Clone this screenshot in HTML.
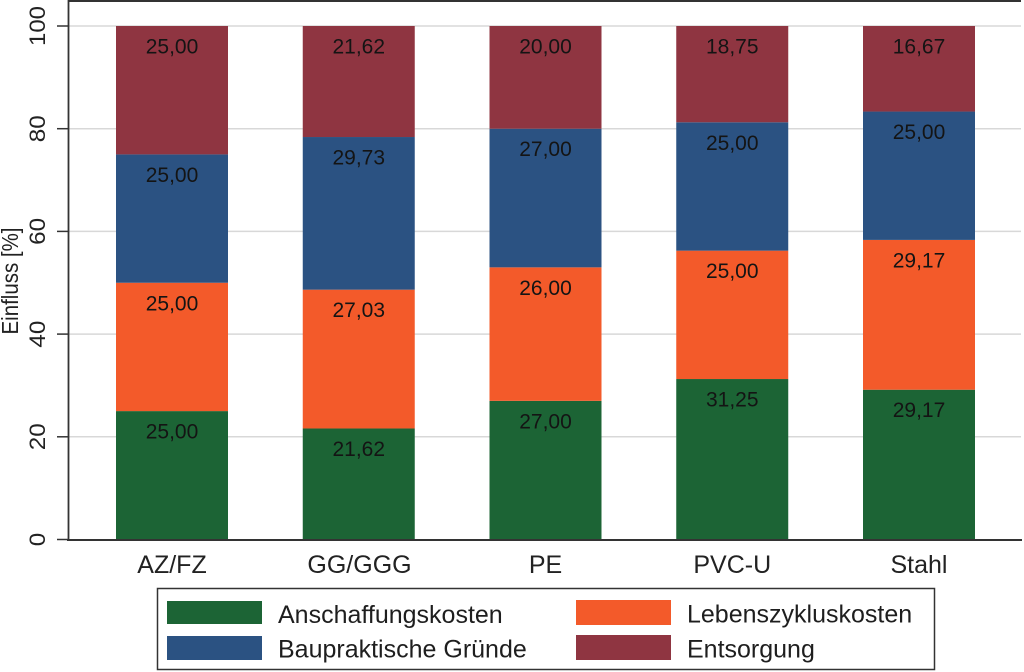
<!DOCTYPE html>
<html>
<head>
<meta charset="utf-8">
<style>
html,body{margin:0;padding:0;background:#fff;}
svg{display:block;}
text{font-family:"Liberation Sans", Arial, sans-serif;}
</style>
</head>
<body>
<svg width="1024" height="672" viewBox="0 0 1024 672" xmlns="http://www.w3.org/2000/svg">
  <rect width="1024" height="672" fill="#fff"/>
  <!-- gridlines -->
  <g stroke="#d8d8d8" stroke-width="1.5">
    <line x1="68" y1="26" x2="1021" y2="26"/>
    <line x1="68" y1="128.7" x2="1021" y2="128.7"/>
    <line x1="68" y1="231.4" x2="1021" y2="231.4"/>
    <line x1="68" y1="334.1" x2="1021" y2="334.1"/>
    <line x1="68" y1="436.8" x2="1021" y2="436.8"/>
  </g>

  <!-- bars -->
  <g>
    <!-- AZ/FZ -->
    <rect x="116" y="411.1" width="112" height="128.4" fill="#1c6435"/>
    <rect x="116" y="282.75" width="112" height="128.35" fill="#f35a2a"/>
    <rect x="116" y="154.4" width="112" height="128.35" fill="#2b5282"/>
    <rect x="116" y="26" width="112" height="128.4" fill="#8f3541"/>
    <!-- GG/GGG -->
    <rect x="302.75" y="428.48" width="112" height="111.02" fill="#1c6435"/>
    <rect x="302.75" y="289.68" width="112" height="138.8" fill="#f35a2a"/>
    <rect x="302.75" y="137.03" width="112" height="152.65" fill="#2b5282"/>
    <rect x="302.75" y="26" width="112" height="111.03" fill="#8f3541"/>
    <!-- PE -->
    <rect x="489.5" y="400.86" width="112" height="138.64" fill="#1c6435"/>
    <rect x="489.5" y="267.35" width="112" height="133.51" fill="#f35a2a"/>
    <rect x="489.5" y="128.7" width="112" height="138.65" fill="#2b5282"/>
    <rect x="489.5" y="26" width="112" height="102.7" fill="#8f3541"/>
    <!-- PVC-U -->
    <rect x="676.25" y="379.03" width="112" height="160.47" fill="#1c6435"/>
    <rect x="676.25" y="250.66" width="112" height="128.37" fill="#f35a2a"/>
    <rect x="676.25" y="122.28" width="112" height="128.38" fill="#2b5282"/>
    <rect x="676.25" y="26" width="112" height="96.28" fill="#8f3541"/>
    <!-- Stahl -->
    <rect x="863" y="389.71" width="112" height="149.79" fill="#1c6435"/>
    <rect x="863" y="239.92" width="112" height="149.79" fill="#f35a2a"/>
    <rect x="863" y="111.55" width="112" height="128.37" fill="#2b5282"/>
    <rect x="863" y="26" width="112" height="85.55" fill="#8f3541"/>
  </g>

  <!-- value labels -->
  <g font-size="21" fill="#141414" text-anchor="middle">
    <text x="172" y="438.6">25,00</text>
    <text x="172" y="310.3">25,00</text>
    <text x="172" y="181.9">25,00</text>
    <text x="172" y="53.5">25,00</text>

    <text x="358.75" y="456">21,62</text>
    <text x="358.75" y="317.2">27,03</text>
    <text x="358.75" y="164.5">29,73</text>
    <text x="358.75" y="53.5">21,62</text>

    <text x="545.5" y="428.4">27,00</text>
    <text x="545.5" y="294.9">26,00</text>
    <text x="545.5" y="156.2">27,00</text>
    <text x="545.5" y="53.5">20,00</text>

    <text x="732.25" y="406.5">31,25</text>
    <text x="732.25" y="278.2">25,00</text>
    <text x="732.25" y="149.8">25,00</text>
    <text x="732.25" y="53.5">18,75</text>

    <text x="919" y="417.2">29,17</text>
    <text x="919" y="267.4">29,17</text>
    <text x="919" y="139">25,00</text>
    <text x="919" y="53.5">16,67</text>
  </g>

  <!-- axes -->
  <line x1="68" y1="1" x2="1021" y2="1" stroke="#333" stroke-width="2"/>
  <line x1="68.5" y1="0" x2="68.5" y2="541" stroke="#333" stroke-width="1.8"/>
  <line x1="67" y1="540" x2="1022" y2="540" stroke="#333" stroke-width="2"/>
  <g stroke="#333" stroke-width="1.5">
    <line x1="57" y1="26" x2="68" y2="26"/>
    <line x1="57" y1="128.7" x2="68" y2="128.7"/>
    <line x1="57" y1="231.4" x2="68" y2="231.4"/>
    <line x1="57" y1="334.1" x2="68" y2="334.1"/>
    <line x1="57" y1="436.8" x2="68" y2="436.8"/>
    <line x1="57" y1="539.5" x2="68" y2="539.5"/>
  </g>

  <!-- y tick labels -->
  <g font-size="22" fill="#222" text-anchor="middle">
    <text transform="translate(45,26) rotate(-90)" textLength="40" lengthAdjust="spacingAndGlyphs">100</text>
    <text transform="translate(45,128.7) rotate(-90)" textLength="27" lengthAdjust="spacingAndGlyphs">80</text>
    <text transform="translate(45,231.4) rotate(-90)" textLength="27" lengthAdjust="spacingAndGlyphs">60</text>
    <text transform="translate(45,334.1) rotate(-90)" textLength="27" lengthAdjust="spacingAndGlyphs">40</text>
    <text transform="translate(45,436.8) rotate(-90)" textLength="27" lengthAdjust="spacingAndGlyphs">20</text>
    <text transform="translate(45,539.5) rotate(-90)" textLength="13.5" lengthAdjust="spacingAndGlyphs">0</text>
  </g>

  <!-- y title -->
  <text transform="translate(18,281) rotate(-90)" font-size="23" fill="#222" text-anchor="middle" textLength="107" lengthAdjust="spacingAndGlyphs">Einfluss [%]</text>

  <!-- x labels -->
  <g font-size="25" fill="#222" text-anchor="middle">
    <text x="172" y="573">AZ/FZ</text>
    <text x="359.5" y="573">GG/GGG</text>
    <text x="545.5" y="573">PE</text>
    <text x="732.25" y="573">PVC-U</text>
    <text x="919" y="573">Stahl</text>
  </g>

  <!-- legend -->
  <rect x="157.5" y="588.5" width="777" height="81" fill="#fff" stroke="#333" stroke-width="1.5"/>
  <rect x="167" y="601" width="95" height="23" fill="#1c6435"/>
  <rect x="167" y="636" width="95" height="24" fill="#2b5282"/>
  <rect x="576" y="600" width="95" height="25" fill="#f35a2a"/>
  <rect x="576" y="635" width="95" height="25" fill="#8f3541"/>
  <g font-size="25" fill="#1e1e1e">
    <text x="278" y="623">Anschaffungskosten</text>
    <text x="278" y="657.5">Baupraktische Gründe</text>
    <text x="687" y="622.5">Lebenszykluskosten</text>
    <text x="687" y="657.5">Entsorgung</text>
  </g>
</svg>
</body>
</html>
